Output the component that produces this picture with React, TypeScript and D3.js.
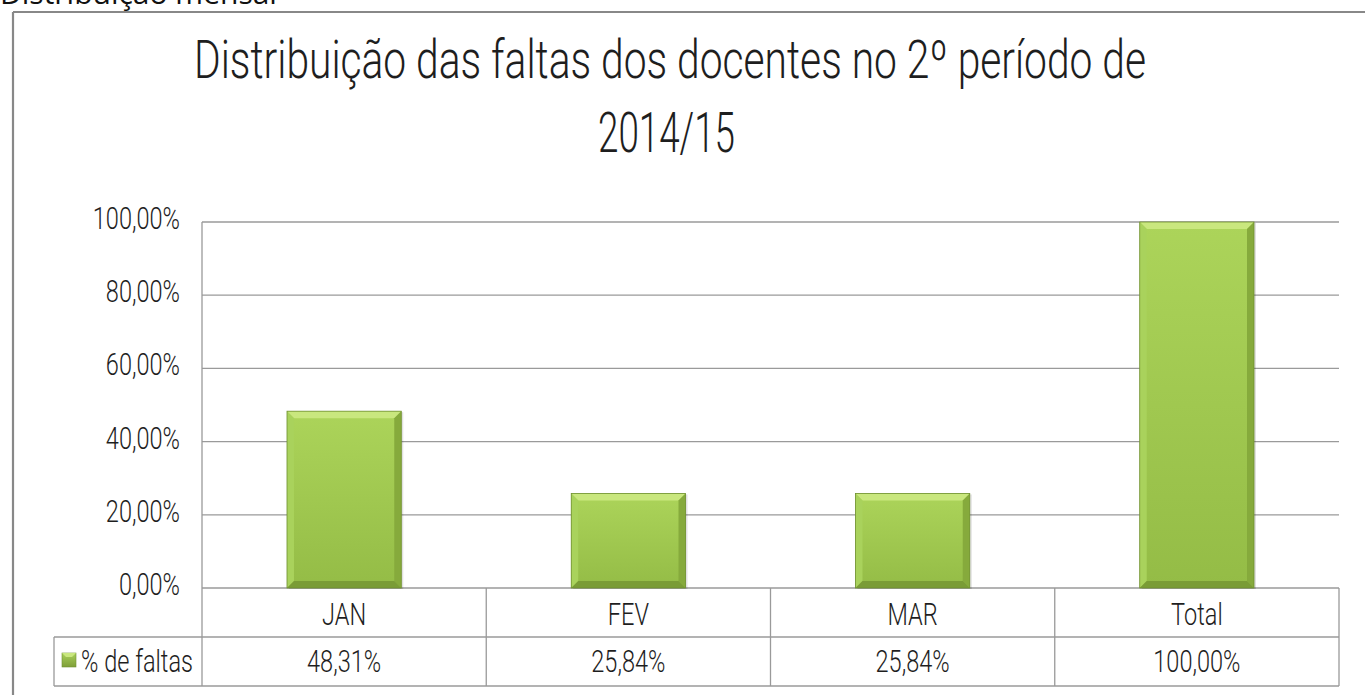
import React from "react";
import * as d3 from "d3";

const categories = ["JAN", "FEV", "MAR", "Total"];
const values = [48.31, 25.84, 25.84, 100];
const valueLabels = ["48,31%", "25,84%", "25,84%", "100,00%"];
const yTicks = [0, 20, 40, 60, 80, 100];
const seriesName = "% de faltas";
const titleLines = ["Distribuição das faltas dos docentes no 2º período de", "2014/15"];
const pageHeading = "Distribuição mensal";

const W = 1365;
const H = 695;
const FONT = "Roboto, 'DejaVu Sans Condensed', sans-serif";
const SX = 0.76;

function T({ x, y, anchor = "middle", size = 31, children, sx = SX, len }: any) {
  return (
    <text
      transform={`translate(${x},${y}) scale(${sx},1)`}
      textAnchor={anchor}
      fontFamily={FONT}
      fontWeight={300}
      fontSize={size}
      fill="#1e1e1e"
      textLength={len}
      lengthAdjust={len ? "spacingAndGlyphs" : undefined}
    >
      {children}
    </text>
  );
}

function Bar({ x0, y0, w, h, id }: any) {
  const b = Math.min(7, h / 4);
  const x1 = x0 + w;
  const y1 = y0 + h;
  return (
    <g>
      <rect x={x0 + 2} y={y0 + 1} width={w} height={h} fill="#000" opacity={0.12} />
      <rect x={x0} y={y0} width={w} height={h} fill={`url(#${id})`} />
      <polygon points={`${x0},${y0} ${x1},${y0} ${x1 - b},${y0 + b} ${x0 + b},${y0 + b}`} fill="#c9e77e" />
      <polygon points={`${x0},${y0} ${x0 + b},${y0 + b} ${x0 + b},${y1 - b} ${x0},${y1}`} fill="#a9d25c" />
      <polygon points={`${x1},${y0} ${x1 - b},${y0 + b} ${x1 - b},${y1 - b} ${x1},${y1}`} fill="#86aa3c" />
      <polygon points={`${x0},${y1} ${x0 + b},${y1 - b} ${x1 - b},${y1 - b} ${x1},${y1}`} fill="#7a9c36" />
      <rect x={x0} y={y0} width={w} height={h} fill="none" stroke="#6f8f30" strokeWidth={0.8} />
    </g>
  );
}

export default function App() {
  const plotLeft = 202;
  const plotRight = 1339;
  const yTop = 222;
  const yBottom = 588;
  const row1 = 637;
  const row2 = 686;
  const legendLeft = 54;

  const x = d3.scaleBand<string>().domain(categories).range([plotLeft, plotRight]).padding(0);
  const y = d3.scaleLinear().domain([0, 100]).range([yBottom, yTop]);
  const bw = x.bandwidth() * 0.402;
  const grid = "#9a9a9a";

  return (
    <svg width={W} height={H} style={{ position: "absolute", left: 0, top: 0, background: "#fff" }}>
      <defs>
        <linearGradient id="barGrad" x1="0" y1="0" x2="0" y2="1">
          <stop offset="0" stopColor="#acd45a" />
          <stop offset="1" stopColor="#94bc46" />
        </linearGradient>
        <linearGradient id="legGrad" x1="0" y1="0" x2="0" y2="1">
          <stop offset="0" stopColor="#a8d05a" />
          <stop offset="1" stopColor="#7f9f38" />
        </linearGradient>
      </defs>
      <rect x={0} y={0} width={W} height={H} fill="#fff" />
      <text x={0} y={4} fontFamily="'Open Sans', 'Noto Sans', sans-serif" fontSize={30} fill="#111">
        {pageHeading}
      </text>
      {/* frame */}
      <line x1={13} y1={12} x2={W} y2={12} stroke="#888" strokeWidth={2.2} />
      <line x1={13} y1={12} x2={13} y2={H} stroke="#888" strokeWidth={2.2} />

      {/* title */}
      <T x={670} y={78} size={53} sx={1} len={952}>{titleLines[0]}</T>
      <T x={666.5} y={152} size={55} sx={1} len={137}>{titleLines[1]}</T>

      {/* gridlines */}
      {yTicks.map((t) => (
        <line key={t} x1={plotLeft} x2={plotRight} y1={y(t)} y2={y(t)} stroke={grid} strokeWidth={1.3} />
      ))}
      <line x1={plotLeft} x2={plotLeft} y1={yTop} y2={row2} stroke={grid} strokeWidth={1.3} />

      {/* y tick labels */}
      {yTicks.map((t) => (
        <T key={t} x={180} y={y(t) + 7} anchor="end">
          {d3.format(".2f")(t).replace(".", ",") + "%"}
        </T>
      ))}

      {/* bars */}
      {categories.map((c, i) => {
        const cx = (x(c) as number) + x.bandwidth() / 2;
        return <Bar key={c} id="barGrad" x0={cx - bw / 2} y0={y(values[i])} w={bw} h={yBottom - y(values[i])} />;
      })}

      {/* data table */}
      <line x1={legendLeft} x2={plotRight} y1={row1} y2={row1} stroke={grid} strokeWidth={1.3} />
      <line x1={legendLeft} x2={plotRight} y1={row2} y2={row2} stroke={grid} strokeWidth={1.3} />
      <line x1={legendLeft} x2={legendLeft} y1={row1} y2={row2} stroke={grid} strokeWidth={1.3} />
      {categories.map((c) => (
        <line key={c} x1={(x(c) as number) + x.bandwidth()} x2={(x(c) as number) + x.bandwidth()} y1={yBottom} y2={row2} stroke={grid} strokeWidth={1.3} />
      ))}
      {categories.map((c, i) => {
        const cx = (x(c) as number) + x.bandwidth() / 2;
        return (
          <g key={c}>
            <T x={cx} y={625}>{c}</T>
            <T x={cx} y={672}>{valueLabels[i]}</T>
          </g>
        );
      })}
      <rect x={62} y={653} width={14} height={14} fill="url(#legGrad)" stroke="#6f8f30" strokeWidth={0.6} />
      <polygon points="62,653 76,653 72,657 66,657" fill="#c9e77e" />
      <T x={81} y={672} anchor="start">{seriesName}</T>
    </svg>
  );
}
